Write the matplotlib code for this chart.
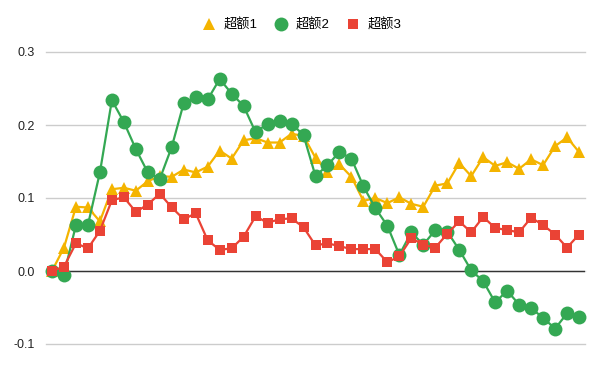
import matplotlib
matplotlib.use("Agg")
import matplotlib.pyplot as plt
from matplotlib.lines import Line2D

plt.rcParams['font.family'] = ['Liberation Sans', 'Noto Sans CJK SC', 'DejaVu Sans']

names = ["超额1", "超额2", "超额3"]
colors = ["#F4B400", "#34A853", "#EA4335"]

s1 = [0.0, 0.032, 0.088, 0.087, 0.068, 0.112, 0.114, 0.110, 0.123, 0.130,
      0.129, 0.139, 0.135, 0.143, 0.165, 0.154, 0.179, 0.182, 0.176, 0.176,
      0.188, 0.185, 0.155, 0.136, 0.146, 0.129, 0.096, 0.100, 0.093, 0.101,
      0.092, 0.088, 0.117, 0.120, 0.148, 0.130, 0.156, 0.144, 0.149, 0.140,
      0.153, 0.145, 0.171, 0.183, 0.163]
s2 = [0.0, -0.005, 0.063, 0.063, 0.135, 0.234, 0.204, 0.167, 0.135, 0.126,
      0.170, 0.230, 0.238, 0.235, 0.263, 0.243, 0.226, 0.190, 0.202, 0.206,
      0.202, 0.186, 0.130, 0.145, 0.163, 0.154, 0.116, 0.086, 0.062, 0.022,
      0.053, 0.036, 0.056, 0.054, 0.029, 0.001, -0.014, -0.043, -0.027, -0.046,
      -0.051, -0.064, -0.079, -0.058, -0.063]
s3 = [0.0, 0.006, 0.038, 0.031, 0.055, 0.097, 0.101, 0.081, 0.091, 0.106,
      0.087, 0.071, 0.079, 0.042, 0.029, 0.031, 0.047, 0.075, 0.066, 0.071,
      0.072, 0.060, 0.035, 0.038, 0.034, 0.030, 0.030, 0.030, 0.012, 0.020,
      0.045, 0.036, 0.032, 0.051, 0.068, 0.053, 0.074, 0.059, 0.056, 0.053,
      0.073, 0.063, 0.050, 0.032, 0.050]
series = [s1, s2, s3]
markers = ["^", "o", "s"]
msizes = [8, 10, 7.5]

yticks = [-0.1, 0.0, 0.1, 0.2, 0.3]
ytick_labels = ["-0.1", "0.0", "0.1", "0.2", "0.3"]

fig = plt.figure(figsize=(6.0, 3.71), dpi=100)
ax = fig.add_axes([46/600, 1 - 344/371, (585-46)/600, (344-52)/371])

x = list(range(len(s1)))
for s, c, m, ms, n in zip(series, colors, markers, msizes, names):
    ax.plot(x, s, color=c, lw=1.6, marker=m, markersize=ms,
            markeredgewidth=0, label=n, zorder=3, clip_on=False)

ax.set_xlim(-0.5, len(s1) - 0.5)
ax.set_ylim(-0.1, 0.3)
ax.set_yticks(yticks)
ax.set_yticklabels(ytick_labels)
ax.set_xticks([])
for t in yticks:
    ax.axhline(t, color="#cccccc", lw=1, zorder=1, clip_on=False)
ax.axhline(0, color="#333333", lw=1, zorder=2)
for sp in ax.spines.values():
    sp.set_visible(False)
ax.tick_params(axis='y', length=0, pad=8, labelsize=9, labelcolor="#222222")

handles = [Line2D([0], [0], color=c, marker=m, markersize=ms, lw=0, markeredgewidth=0)
           for c, m, ms in zip(colors, markers, msizes)]
fig.legend(handles, names, loc="center", bbox_to_anchor=(0.503, 1 - 25/371),
           ncol=3, frameon=False, fontsize=9.5, handlelength=1.0,
           handletextpad=0.6, columnspacing=1.3)

fig.savefig("out.png", dpi=100)
